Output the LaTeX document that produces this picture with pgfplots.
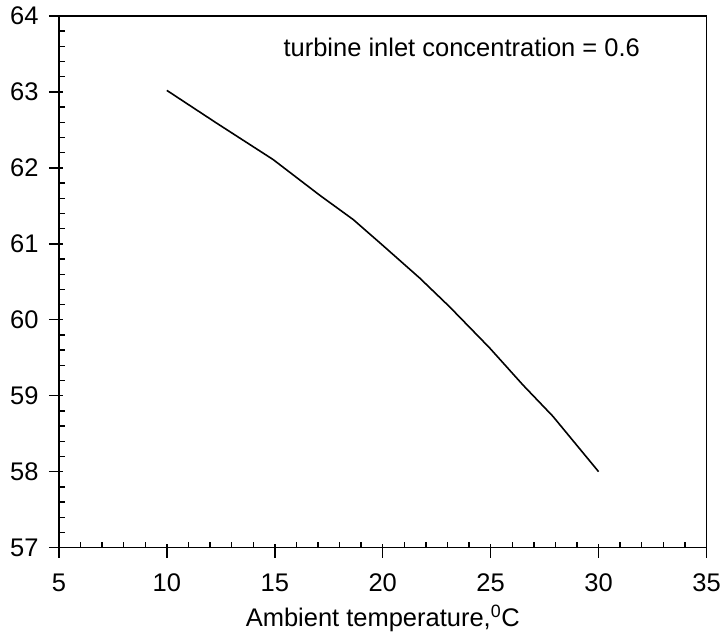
\documentclass[border=0pt]{standalone}
\usepackage{pgfplots}
\pgfplotsset{compat=1.18}
\usepackage{fontspec}
\setmainfont{Liberation Sans}
\begin{document}
\begin{tikzpicture}
\begin{axis}[
  scale only axis,
  width=648pt, height=532pt,
  xmin=5, xmax=35, ymin=57, ymax=64,
  xtick={5,10,...,35}, ytick={57,...,64},
  minor x tick num=4, minor y tick num=4,
  xtick pos=bottom, ytick pos=left,
  tick align=inside,
  major tick length=14pt, minor tick length=6pt,
  major x tick style={yshift=-10pt},
  major y tick style={xshift=-10pt},
  axis line style={line width=1.6pt},
  tick style={line width=1.4pt, black},
  /pgf/number format/assume math mode=true,
  ticklabel style={font=\fontsize{25.5}{30}\selectfont},
  xticklabel style={yshift=-23pt},
  yticklabel style={xshift=-17pt},
  xlabel={Ambient temperature,\textsuperscript{0}C},
  xlabel style={font=\fontsize{25.5}{30}\selectfont, yshift=-6pt},
  clip=false,
]
\addplot[black, line width=1.6pt] coordinates {
(10,63.02) (12.3,62.59) (14.92,62.11) (17.08,61.64) (18.63,61.32)
(20.0,60.98) (21.71,60.55) (23.1,60.17) (24.95,59.63) (26.5,59.14)
(27.88,58.73) (30,58.0)
};
\node[font=\fontsize{25.5}{30}\selectfont] at (axis cs:23.66,63.59) {turbine inlet concentration = 0.6};
\end{axis}
\path ([xshift=-59pt,yshift=-87pt]current axis.south west) rectangle ([xshift=17pt,yshift=16pt]current axis.north east);
\end{tikzpicture}
\end{document}
